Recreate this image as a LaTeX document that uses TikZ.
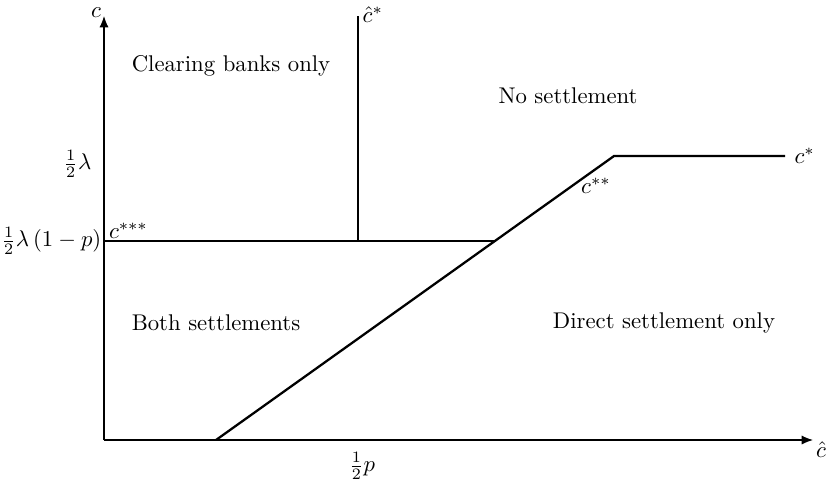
\documentclass[tikz,border=0pt]{standalone}
\usetikzlibrary{arrows.meta}
\begin{document}
\begin{tikzpicture}[x=0.44pt,y=-0.44pt,
  axis/.style={line width=0.5pt,-{Latex[length=5pt,width=4pt]}},
  curve/.style={line width=1pt},
  lbl/.style={inner sep=1pt}]
\useasboundingbox (0,0) rectangle (833,482);
% coordinates
\coordinate (O) at (104,440);
\coordinate (ytop) at (104,16);
\coordinate (xend) at (813,440);
\coordinate (A) at (104,241);
\coordinate (B) at (358,241);
\coordinate (Btop) at (358,16);
\coordinate (K) at (495,241);
\coordinate (D0) at (216,440);
\coordinate (D1) at (614,156);
\coordinate (E) at (785,156);
% axes
\draw[axis] (O) -- (ytop);
\draw[axis] (O) -- (xend);
% lines
\draw[curve] (A) -- (K);
\draw[curve] (B) -- (Btop);
\draw[curve] (D0) -- (D1) -- (E);
% labels
\node[lbl] (lc) at (96,13) {$c$};
\node[lbl] (lch) at (821,450) {$\hat{c}$};
\node[lbl,anchor=west] (lhcs) at (360,15) {$\hat{c}^{*}$};
\node[lbl,anchor=west] (lcs) at ([xshift=3pt]E) {$c^{*}$};
\node[lbl] (lcss) at (596,186) {$c^{**}$};
\node[lbl,anchor=south west] (lcsss) at ([xshift=1pt]A) {$c^{***}$};
\node[lbl,anchor=east] (lhl) at (94,164) {$\frac{1}{2}\lambda$};
\node[lbl,anchor=east] (lhlp) at (A) {$\frac{1}{2}\lambda\left(1-p\right)$};
\node[lbl] (lhp) at (362,466) {$\frac{1}{2}p$};
\node (r1) at (231,66) {Clearing banks only};
\node (r2) at (568,96) {No settlement};
\node (r3) at (216,323) {Both settlements};
\node (r4) at (664,323) {Direct settlement only};
\end{tikzpicture}
\end{document}
